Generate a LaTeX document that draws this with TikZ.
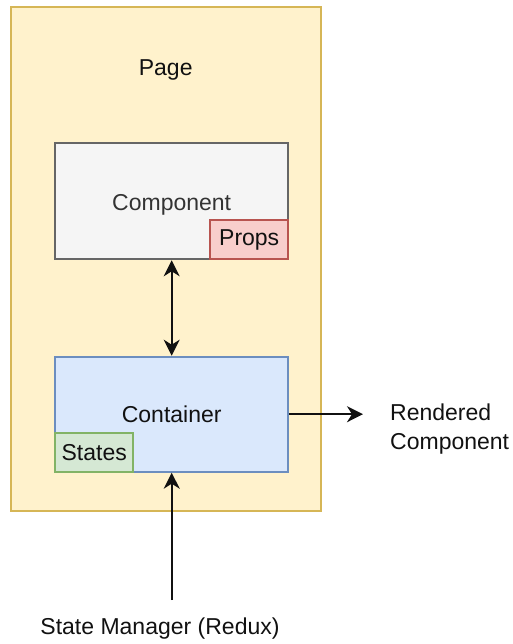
\documentclass[tikz,border=0pt]{standalone}
\usepackage{fontspec}
\setmainfont{Liberation Sans}
\usetikzlibrary{arrows.meta}

\definecolor{pagefill}{HTML}{FFF2CC}
\definecolor{pageline}{HTML}{D6B656}
\definecolor{compfill}{HTML}{F5F5F5}
\definecolor{compline}{HTML}{666666}
\definecolor{comptext}{HTML}{333333}
\definecolor{propfill}{HTML}{F8CECC}
\definecolor{propline}{HTML}{B85450}
\definecolor{contfill}{HTML}{DAE8FC}
\definecolor{contline}{HTML}{6C8EBF}
\definecolor{statfill}{HTML}{D5E8D4}
\definecolor{statline}{HTML}{82B366}
\definecolor{ink}{HTML}{111111}

\tikzset{
  lbl/.style={font=\fontsize{23}{29}\selectfont, text=ink, inner sep=0pt},
  box/.style={draw, line width=2pt, inner sep=0pt, font=\fontsize{23}{29}\selectfont, text=ink},
  conn/.style={line width=2pt, draw=ink,
    -{Stealth[length=16pt, width=16pt, inset=5pt]}},
  biconn/.style={line width=2pt, draw=ink,
    {Stealth[length=16pt, width=16pt, inset=5pt]}-{Stealth[length=16pt, width=16pt, inset=5pt]}}
}

\begin{document}
\begin{tikzpicture}[x=1pt, y=-1pt]
\useasboundingbox (0,0) rectangle (512,644);

% outer page frame
\node[box, draw=pageline, fill=pagefill, minimum width=310.6pt, minimum height=503.2pt]
  (page) at (166,259.1) {};
\node[lbl] (pagelbl) at (165.7,69.5) {Page};

% component with its props tab
\node[box, draw=compline, fill=compfill, text=comptext,
  minimum width=233.3pt, minimum height=116pt] (comp) at (171.7,201.3) {};
\node[lbl, text=comptext] (complbl) at (171.7,204.5) {Component};
\node[box, draw=propline, fill=propfill, minimum width=78.3pt, minimum height=39.3pt,
  anchor=south east] (props) at (comp.south east) {Props};

% container with its states tab
\node[box, draw=contline, fill=contfill, minimum width=233.3pt, minimum height=115pt]
  (cont) at (171.7,414.2) {};
\node[lbl] (contlbl) at (171.7,414) {Container};
\node[box, draw=statline, fill=statfill, minimum width=78.3pt, minimum height=39pt,
  anchor=south west] (states) at (cont.south west) {States};

% outside labels
\node[lbl, anchor=west, align=left] (rend) at (390,429) {Rendered\\Component};
\node[lbl] (redux) at (160,629) {State Manager (Redux)};
\coordinate (src) at (171.7,600);

% connectors
\draw[biconn] (comp.south) -- (cont.north);
\draw[conn] (cont.east) -- ([xshift=-27pt]cont.east -| rend.west);
\draw[conn] (src) -- (cont.south);
\end{tikzpicture}
\end{document}
